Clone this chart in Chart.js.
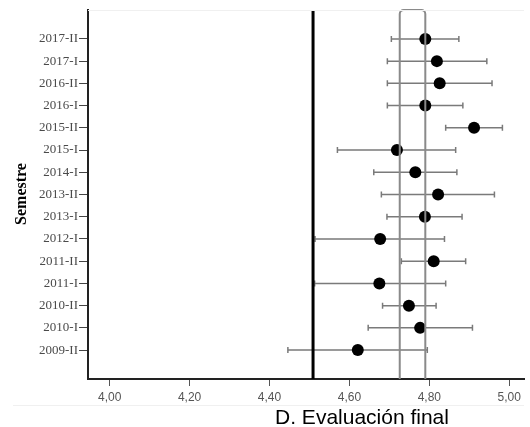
<!DOCTYPE html>
<html>
<head>
<meta charset="utf-8">
<script src="https://cdn.jsdelivr.net/npm/chart.js@4/dist/chart.umd.min.js"></script>
<style>
  body { margin: 0; background: #fff; }
  #wrap { width: 530px; height: 427px; position: relative; }
</style>
</head>
<body>
<div id="wrap"><canvas id="grafico"></canvas></div>
<script>
// semestres, de abajo hacia arriba
const semestres = ["2009-II", "2010-I", "2010-II", "2011-I", "2011-II", "2012-I", "2013-I",
  "2013-II", "2014-I", "2015-I", "2015-II", "2016-I", "2016-II", "2017-I", "2017-II"];
const medias = [4.621, 4.777, 4.749, 4.675, 4.811, 4.677, 4.789,
  4.822, 4.765, 4.719, 4.912, 4.790, 4.826, 4.819, 4.790];
const limInf = [4.446, 4.647, 4.683, 4.513, 4.730, 4.514, 4.694,
  4.680, 4.661, 4.570, 4.841, 4.695, 4.695, 4.695, 4.705];
const limSup = [4.795, 4.908, 4.817, 4.841, 4.891, 4.838, 4.882,
  4.963, 4.869, 4.866, 4.983, 4.884, 4.957, 4.944, 4.874];
const xTicks = [4.0, 4.2, 4.4, 4.6, 4.8, 5.0];
const lineaRef = 4.509;
const banda = [4.726, 4.790];

const errorBars = {
  id: "errorBars",
  beforeDatasetsDraw(chart) {
    const { ctx, scales: { x, y } } = chart;
    ctx.save();
    ctx.strokeStyle = "#7a7a7a";
    ctx.lineWidth = 1.5;
    semestres.forEach((s, i) => {
      const py = y.getPixelForValue(i);
      const x1 = x.getPixelForValue(limInf[i]);
      const x2 = x.getPixelForValue(limSup[i]);
      ctx.beginPath();
      ctx.moveTo(x1, py); ctx.lineTo(x2, py);
      ctx.moveTo(x1, py - 3); ctx.lineTo(x1, py + 3);
      ctx.moveTo(x2, py - 3); ctx.lineTo(x2, py + 3);
      ctx.stroke();
    });
    ctx.restore();
  },
  afterDatasetsDraw(chart) {
    const { ctx, chartArea: a, scales: { x } } = chart;
    ctx.save();
    // banda
    const bx1 = x.getPixelForValue(banda[0]);
    const bx2 = x.getPixelForValue(banda[1]);
    const r = 4;
    ctx.strokeStyle = "#8a8a8a";
    ctx.lineWidth = 2;
    ctx.beginPath();
    ctx.moveTo(bx1, a.bottom);
    ctx.lineTo(bx1, a.top + r);
    ctx.arcTo(bx1, a.top, bx1 + r, a.top, r);
    ctx.lineTo(bx2 - r, a.top);
    ctx.arcTo(bx2, a.top, bx2, a.top + r, r);
    ctx.lineTo(bx2, a.bottom);
    ctx.stroke();
    // linea de referencia
    const lx = x.getPixelForValue(lineaRef);
    ctx.strokeStyle = "#000";
    ctx.lineWidth = 3;
    ctx.beginPath();
    ctx.moveTo(lx, a.top); ctx.lineTo(lx, a.bottom);
    ctx.stroke();
    ctx.restore();
  },
  afterDraw(chart) {
    const { ctx, chartArea: a } = chart;
    ctx.save();
    ctx.strokeStyle = "#f0f0f0";
    ctx.lineWidth = 1;
    ctx.beginPath();
    ctx.moveTo(a.left, a.top + 0.5); ctx.lineTo(a.right, a.top + 0.5);
    ctx.moveTo(13, 405.5); ctx.lineTo(a.right, 405.5);
    ctx.stroke();
    ctx.fillStyle = "#000";
    ctx.font = "21px 'Liberation Sans', Arial, sans-serif";
    ctx.textAlign = "center";
    ctx.textBaseline = "alphabetic";
    ctx.fillText("D. Evaluación final", 362, 424);
    ctx.translate(22, 194);
    ctx.rotate(-Math.PI / 2);
    ctx.font = "bold 16px 'Liberation Serif', 'Times New Roman', serif";
    ctx.textBaseline = "middle";
    ctx.fillText("Semestre", 0, 0);
    ctx.restore();
  }
};

new Chart(document.getElementById("grafico"), {
  type: "scatter",
  data: {
    datasets: [{
      data: medias.map((m, i) => ({ x: m, y: i })),
      backgroundColor: "#000",
      borderWidth: 0,
      pointRadius: 6,
      pointHoverRadius: 6
    }]
  },
  options: {
    responsive: true,
    maintainAspectRatio: false,
    animation: false,
    layout: { padding: { top: 10, right: 0, left: 0, bottom: 0 } },
    plugins: { legend: { display: false }, tooltip: { enabled: false } },
    scales: {
      x: {
        type: "linear",
        min: 4 - 22 / 405,
        max: 4 - 22 / 405 + 442 / 405,
        afterFit: s => { s.height = 48; },
        afterBuildTicks: s => { s.ticks = xTicks.map(v => ({ value: v })); },
        border: { display: true, color: "#222", width: 2 },
        grid: { display: true, drawOnChartArea: false, drawTicks: true, tickLength: 7, color: "#555" },
        ticks: {
          padding: 4,
          color: "#555",
          font: { family: "'Liberation Sans', Arial, sans-serif", size: 12 },
          callback: v => v.toFixed(2).replace(".", ",")
        }
      },
      y: {
        type: "linear",
        min: -1.3,
        max: 15.3,
        afterFit: s => { s.width = 88; },
        afterBuildTicks: s => { s.ticks = semestres.map((c, i) => ({ value: i })); },
        border: { display: true, color: "#222", width: 2 },
        grid: { display: true, drawOnChartArea: false, drawTicks: true, tickLength: 9, color: "#444" },
        ticks: {
          padding: 1,
          color: "#4a4a4a",
          font: { family: "'Liberation Serif', 'Times New Roman', serif", size: 13 },
          callback: v => semestres[v]
        }
      }
    }
  },
  plugins: [errorBars]
});
</script>
</body>
</html>
